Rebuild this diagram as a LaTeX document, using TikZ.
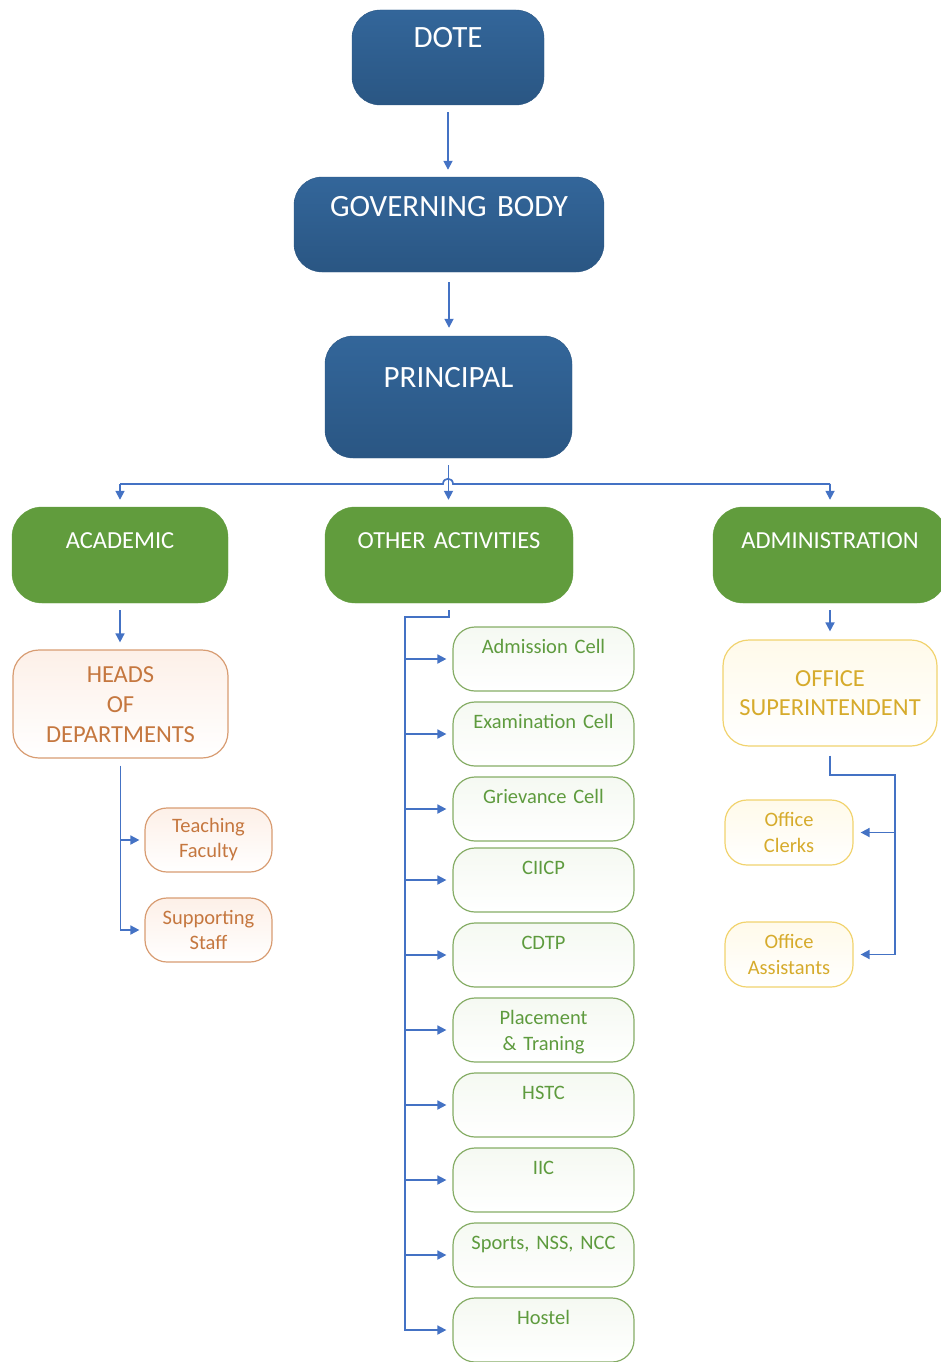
\documentclass[tikz,border=0pt]{standalone}
\usepackage{fontspec}
\setmainfont{Carlito}
\usepackage{tikz}
\usetikzlibrary{arrows.meta, positioning, calc}
\usepackage{xcolor}
\definecolor{bleuhaut}{HTML}{33669A}
\definecolor{bleubas}{HTML}{2A5683}
\definecolor{vertplein}{HTML}{619C3D}
\definecolor{trait}{HTML}{4472C4}
\definecolor{orangebord}{HTML}{D89C72}
\definecolor{orangetexte}{HTML}{C5773F}
\definecolor{peche}{HTML}{FDF0E8}
\definecolor{vertbord}{HTML}{86AD66}
\definecolor{verttexte}{HTML}{5E9B3E}
\definecolor{vertpale}{HTML}{F5F9F2}
\definecolor{jaunebord}{HTML}{F1D36E}
\definecolor{jaunetexte}{HTML}{D6AB2C}
\definecolor{jaunepale}{HTML}{FFFAEA}
\tikzset{
    box blue/.style={rounded corners=28pt, top color=bleuhaut, bottom color=bleubas, draw=bleubas, text=white, font=\fontsize{31}{37}\selectfont, align=center, inner sep=0pt},
    box green/.style={rounded corners=30pt, fill=vertplein, draw=vertplein, text=white, font=\fontsize{24.5}{30}\selectfont, align=center, inner sep=0pt},
    box orange/.style={rounded corners=26pt, draw=orangebord, line width=1.2pt, top color=peche, bottom color=white, text=orangetexte, font=\fontsize{24.5}{30}\selectfont, align=center, inner sep=0pt},
    small orange/.style={box orange, rounded corners=22pt, font=\fontsize{20.5}{25}\selectfont},
    cell green/.style={rounded corners=22pt, draw=vertbord, line width=1.2pt, top color=vertpale, bottom color=white, text=verttexte, font=\fontsize{20.5}{26}\selectfont, align=center, inner sep=0pt, minimum width=181pt, minimum height=64pt, text width=170pt, text height=26pt, text depth=38pt},
    box yellow/.style={rounded corners=26pt, draw=jaunebord, line width=1.2pt, top color=jaunepale, bottom color=white, text=jaunetexte, font=\fontsize{24.5}{29}\selectfont, align=center, inner sep=0pt},
    small yellow/.style={box yellow, rounded corners=22pt, font=\fontsize{20.5}{25.5}\selectfont},
    link/.style={draw=trait, line width=1.7pt},
    link arrow/.style={link, -{Triangle[length=9pt, width=9pt]}},
}

\begin{document}
\begin{tikzpicture}[x=1pt, y=-1pt]
\useasboundingbox (0,0) rectangle (941,1362);

% haut
\node[box blue, minimum width=192pt, minimum height=95pt, text width=180pt, text height=38pt, text depth=57pt] (dote) at (448,57.5) {DOTE};
\node[box blue, minimum width=310pt, minimum height=95pt, text width=290pt, text height=39pt, text depth=56pt] (gov) at (449,224.5) {GOVERNING BODY};
\node[box blue, minimum width=247pt, minimum height=122pt, text width=230pt, text height=51pt, text depth=71pt] (principal) at (448.5,397) {PRINCIPAL};

% branches
\node[box green, minimum width=216pt, minimum height=96pt, text width=200pt, text height=41pt, text depth=55pt] (academic) at (120,555) {ACADEMIC};
\node[box green, minimum width=248pt, minimum height=96pt, text width=230pt, text height=41pt, text depth=55pt] (other) at (449,555) {OTHER ACTIVITIES};
\node[box green, minimum width=234pt, minimum height=96pt, text width=220pt, text height=41pt, text depth=55pt] (admin) at (830,555) {ADMINISTRATION};

\draw[link arrow, shorten <=7pt, shorten >=7pt] (dote.south) -- (dote.south |- gov.north);
\draw[link arrow, shorten <=10pt, shorten >=8pt] (gov.south) -- (gov.south |- principal.north);
\draw[link arrow, shorten <=7pt, shorten >=7pt] (principal.south) -- (principal.south |- other.north);

\coordinate (bar) at (448,484);
\draw[link] (academic.north |- bar) -- ($(bar)+(-5,0)$) .. controls +(0,-7) and +(0,-7) .. ($(bar)+(5,0)$) -- (admin.north |- bar);
\draw[link arrow, shorten >=7pt] (academic.north |- bar) -- (academic.north);
\draw[link arrow, shorten >=7pt] (admin.north |- bar) -- (admin.north);

% academique
\node[box orange, minimum width=215pt, minimum height=108pt, text width=200pt, text height=32pt, text depth=76pt] (hod) at (120.5,704) {HEADS\\OF\\DEPARTMENTS};
\node[small orange, minimum width=127pt, minimum height=64pt, text width=120pt] (teaching) at (208.5,840) {Teaching\\Faculty};
\node[small orange, minimum width=127pt, minimum height=64pt, text width=120pt] (supporting) at (208.5,930) {Supporting\\Staff};

\draw[link arrow, shorten <=7pt, shorten >=7pt] (academic.south) -- (academic.south |- hod.north);
\draw[link arrow, shorten <=7pt, shorten >=5pt] (hod.south) |- (supporting.west);
\draw[link arrow, shorten >=5pt] (hod.south |- teaching.west) -- (teaching.west);

% autres activites
\foreach \nom/\y/\texte in {adm/659/Admission Cell, exam/734/Examination Cell, griev/809/Grievance Cell, ciicp/880/CIICP, cdtp/955/CDTP, place/1030/{Placement\\\& Traning}, hstc/1105/HSTC, iic/1180/IIC, sports/1255/{Sports, NSS, NCC}, hostel/1330/Hostel} {
    \node[cell green] (\nom) at (543.5,\y) {\texte};
}
\coordinate (spine) at (405,617);
\draw[link arrow, shorten <=7pt, shorten >=6pt] (other.south) |- (spine) |- (hostel.west);
\foreach \nom in {adm, exam, griev, ciicp, cdtp, place, hstc, iic, sports} {
    \draw[link arrow, shorten >=6pt] (spine |- \nom.west) -- (\nom.west);
}

% administration
\node[box yellow, minimum width=214pt, minimum height=106pt, text width=200pt, text height=46pt, text depth=60pt] (os) at (830,693) {OFFICE\\SUPERINTENDENT};
\node[small yellow, minimum width=128pt, minimum height=65pt, text width=120pt] (clerks) at (789,832.5) {Office\\Clerks};
\node[small yellow, minimum width=128pt, minimum height=65pt, text width=120pt] (assistants) at (789,954.5) {Office\\Assistants};

\draw[link arrow, shorten <=7pt, shorten >=8pt] (admin.south) -- (admin.south |- os.north);
\coordinate (os spine) at (895,775);
\draw[link arrow, shorten <=9pt, shorten >=7pt] (os.south) |- (os spine) |- (assistants.east);
\draw[link arrow, shorten >=7pt] (os spine |- clerks.east) -- (clerks.east);
\end{tikzpicture}
\end{document}
